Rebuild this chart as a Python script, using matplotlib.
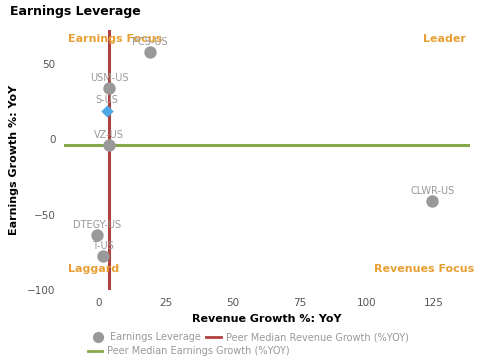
import matplotlib.pyplot as plt

# datos
tickers = ['PCS-US', 'USM-US', 'S-US', 'VZ-US', 'CLWR-US', 'DTEGY-US', 'T-US']
revenue_growth = [19.1, 3.9, 3.2, 3.9, 124.6, -0.6, 1.6]
earnings_growth = [57.7, 33.9, 18.9, -3.9, -41.2, -63.5, -77.6]
destacado = 'S-US'
mediana_revenue = 3.7
mediana_earnings = -3.9

x_ticks = [0, 25, 50, 75, 100, 125]
y_ticks = [-100, -50, 0, 50]

gris = '#999999'
rojo = '#b0413e'
verde = '#86a84a'
azul = '#4ea8e6'
naranja = '#e8a035'

fig = plt.figure(figsize=(4.8, 3.6), dpi=100)
ax = fig.add_axes([0.133, 0.194, 0.846, 0.723])

for t, x, y in zip(tickers, revenue_growth, earnings_growth):
    if t == destacado:
        ax.scatter(x, y, marker='D', s=40, color=azul, zorder=4, linewidths=0)
    else:
        ax.scatter(x, y, marker='o', s=80, color=gris, zorder=3, linewidths=0)
    ax.annotate(t, (x, y), xytext=(0, 4), textcoords='offset points',
                ha='center', va='bottom', fontsize=7, color=gris, zorder=5)

ax.axvline(mediana_revenue, color=rojo, linewidth=2.2, zorder=2)
ax.axhline(mediana_earnings, color=verde, linewidth=2.2, zorder=2)

# leyenda
h1 = ax.scatter([], [], marker='o', s=50, color=gris, label='Earnings Leverage')
h2, = ax.plot([], [], color=rojo, linewidth=2, label='Peer Median Revenue Growth (%YOY)')
h3, = ax.plot([], [], color=verde, linewidth=2, label='Peer Median Earnings Growth (%YOY)')

# cuadrantes
kw = dict(transform=ax.transAxes, color=naranja, fontsize=8, fontweight='bold')
ax.text(0.01, 0.965, 'Earnings Focus', ha='left', va='center', **kw)
ax.text(0.99, 0.965, 'Leader', ha='right', va='center', **kw)
ax.text(0.01, 0.08, 'Laggard', ha='left', va='center', **kw)
ax.text(1.01, 0.08, 'Revenues Focus', ha='right', va='center', **kw)

ax.set_xlim(-13, 138.6)
ax.set_ylim(-100, 72.5)
ax.set_xticks(x_ticks)
ax.set_yticks(y_ticks)
ax.tick_params(length=0, labelsize=7.5, colors='#555555', pad=6)
for s in ax.spines.values():
    s.set_visible(False)

ax.set_xlabel('Revenue Growth %: YoY', fontsize=8, fontweight='bold', labelpad=4)
ax.set_ylabel('Earnings Growth %: YoY', fontsize=8, fontweight='bold', labelpad=6)
fig.text(0.021, 0.968, 'Earnings Leverage', fontsize=9, fontweight='bold', va='center')

ley_kw = dict(loc='center left', frameon=False, fontsize=7, handlelength=1.5,
              handletextpad=0.5, columnspacing=0.6, borderpad=0, borderaxespad=0)
leg1 = fig.legend([h1, h2], [h1.get_label(), h2.get_label()], ncol=2,
                  bbox_to_anchor=(0.188, 1 - 337 / 360), **ley_kw)
leg2 = fig.legend([h3], [h3.get_label()], bbox_to_anchor=(0.183, 1 - 351 / 360), **ley_kw)
for leg in (leg1, leg2):
    for txt in leg.get_texts():
        txt.set_color(gris)

fig.savefig('out.png', dpi=100)
